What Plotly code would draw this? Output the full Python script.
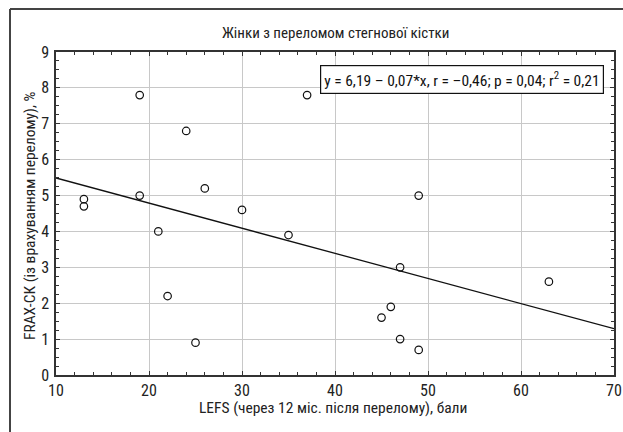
import plotly.graph_objects as go

# Data
lefs = [13, 13, 19, 19, 21, 22, 24, 25, 26, 30, 35, 37, 45, 46, 47, 47, 49, 49, 63]
frax = [4.9, 4.7, 7.8, 5.0, 4.0, 2.2, 6.8, 0.9, 5.2, 4.6, 3.9, 7.8, 1.6, 1.9, 3.0, 1.0, 5.0, 0.7, 2.6]
intercept = 6.19
slope = -0.07
line_x = [10, 70]
line_y = [intercept + slope * v for v in line_x]

title_text = "Жінки з переломом стегнової кістки"
x_title = "LEFS (через 12 міс. після перелому), бали"
y_title = "FRAX-СК (із врахуванням перелому), %"
eq_text = "y = 6,19 – 0,07*x, r = –0,46; p = 0,04; r<sup>2</sup> = 0,21"

FONT = "Roboto Condensed, Liberation Sans Narrow, sans-serif"
TXT = "#222"

fig = go.Figure()
fig.add_trace(go.Scatter(x=line_x, y=line_y, mode="lines",
                         line=dict(color="#111", width=1.3), hoverinfo="skip"))
fig.add_trace(go.Scatter(x=lefs, y=frax, mode="markers",
                         marker=dict(symbol="circle-open", size=7.5,
                                     color="#111", line=dict(width=1.2))))

L, R, T, B = 56, 9, 52, 57
W, H = 623, 432
pw, ph = W - L - R, H - T - B


def px_x(p):
    return (p - L) / pw


def px_y(p):
    return (H - B - p) / ph


axis_common = dict(
    showline=True, linecolor="#333", linewidth=1.5, mirror="allticks",
    ticks="inside", ticklen=4, tickcolor="#333", tickwidth=1,
    showgrid=True, gridcolor="#c8c8c8", gridwidth=1.3,
    zeroline=False, automargin=False,
    tickfont=dict(family=FONT, size=16, color=TXT),
)

fig.update_layout(
    width=W, height=H,
    margin=dict(l=L, r=R, t=T, b=B),
    paper_bgcolor="white", plot_bgcolor="white",
    showlegend=False,
    font=dict(family=FONT, color=TXT),
    xaxis=dict(range=[10, 70], dtick=10, tick0=10,
               minor=dict(dtick=2, ticks="inside", ticklen=3, tickcolor="#333", showgrid=False),
               **axis_common),
    yaxis=dict(range=[0, 9], dtick=1, tick0=0, ticklabelstandoff=2,
               minor=dict(dtick=0.25, ticks="inside", ticklen=3, tickcolor="#333", showgrid=False),
               **axis_common),
)

fig.add_annotation(xref="paper", yref="paper", x=px_x(335), y=px_y(33), text=title_text,
                   showarrow=False, font=dict(family=FONT, size=15, color=TXT),
                   xanchor="center", yanchor="middle")
fig.add_annotation(xref="paper", yref="paper", x=px_x(333), y=px_y(408), text=x_title,
                   showarrow=False, font=dict(family=FONT, size=15.5, color=TXT),
                   xanchor="center", yanchor="middle")
fig.add_annotation(xref="paper", yref="paper", x=px_x(30), y=px_y(216), text=y_title,
                   showarrow=False, font=dict(family=FONT, size=15.5, color=TXT),
                   textangle=-90, xanchor="center", yanchor="middle")

fig.add_annotation(xref="x", yref="y", x=68.9, y=8.23, text=eq_text,
                   showarrow=False, xanchor="right", yanchor="middle",
                   font=dict(family=FONT, size=15.5, color="#111"),
                   bgcolor="white", bordercolor="#111", borderwidth=1.2, borderpad=3)

# outer frame (top and left edges)
fx0 = px_x(10)
fy_top = px_y(9)
fig.add_shape(type="line", xref="paper", yref="paper",
              x0=fx0, x1=px_x(W + 5), y0=fy_top, y1=fy_top,
              line=dict(color="#444", width=2))
fig.add_shape(type="line", xref="paper", yref="paper",
              x0=fx0, x1=fx0, y0=fy_top, y1=px_y(H + 5),
              line=dict(color="#444", width=2))

fig.write_html("out.html")
